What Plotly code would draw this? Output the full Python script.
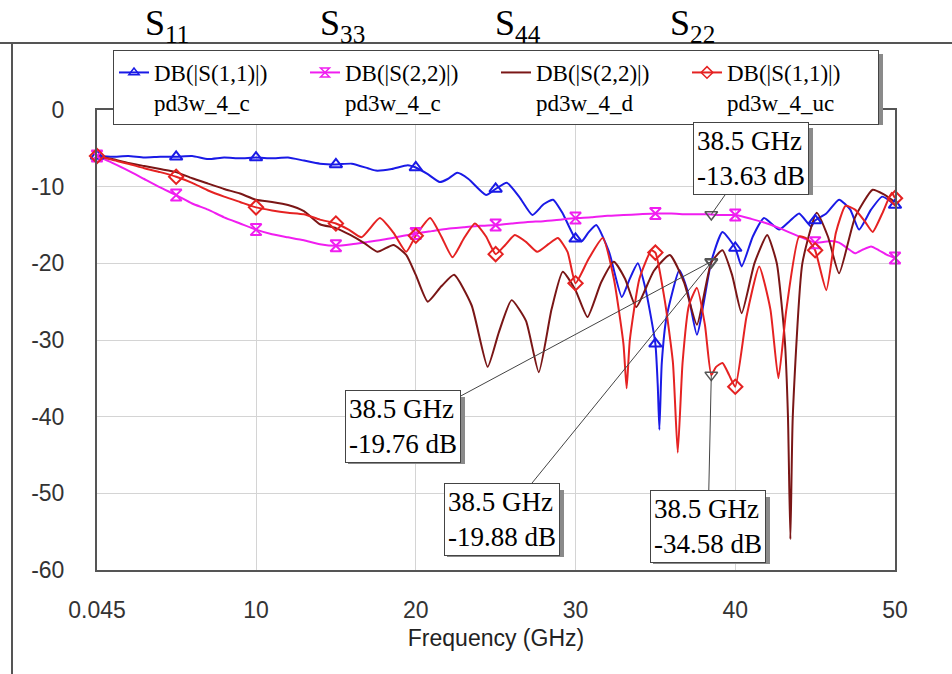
import plotly.graph_objects as go

# ---------------- data ----------------
FREQ_TICKS = [0.045, 10, 20, 30, 40, 50]
FREQ_TICK_TEXT = ["0.045", "10", "20", "30", "40", "50"]
DB_TICKS = [0, -10, -20, -30, -40, -50, -60]
DB_TICK_TEXT = ["0", "-10", "-20", "-30", "-40", "-50", "-60"]
MARKER_FREQS = [0.045, 5, 10, 15, 20, 25, 30, 35, 40, 45, 50]

s11_c_x = [0.045, 1, 2, 3, 4, 5, 6, 7, 8, 9, 10, 11, 12, 13, 14, 15, 16, 17, 17.5, 18.5,
           19.5, 20, 20.7, 21.5, 22, 22.6, 23.3, 24.4, 25, 25.7, 26.5, 27.3, 28, 28.6, 29.2,
           30, 30.4, 30.8, 31.3, 32.1, 32.9, 33.4, 33.9, 34.4, 35, 35.15, 35.25, 35.4, 35.7,
           36.5, 37.0, 37.6, 38.5, 39.2, 40, 40.4, 41.1, 41.8, 42.75, 43.4, 44, 44.75, 45,
           45.7, 46.5, 47.2, 47.75, 48.5, 49.2, 50]
s11_c_y = [-6.0, -6.1, -6.0, -6.2, -6.1, -6.1, -6.0, -6.4, -6.2, -6.3, -6.2, -6.3, -6.2, -6.6,
           -7.0, -7.1, -7.0, -7.6, -7.9, -7.7, -7.2, -7.5, -8.3, -9.4, -9.0, -8.2, -9.0, -11.1,
           -10.3, -9.5, -11.4, -13.7, -12.3, -11.7, -13.5, -16.8, -17.1, -16.0, -15.0, -18.5,
           -24.4, -22.0, -20.0, -23.5, -30.5, -36.0, -41.7, -33.0, -27.0, -20.9, -23.5, -29.3,
           -19.76, -15.9, -18.0, -20.4, -16.5, -14.1, -15.6, -14.5, -13.5, -15.2, -14.4, -13.5,
           -11.7, -13.0, -15.6, -13.0, -11.3, -12.4]

s22_c_x = [0.045, 1, 2, 3, 4, 5, 6, 7, 8, 9, 10, 11, 12, 13, 14, 15, 16, 17, 18, 19, 20, 21,
           22, 23, 24, 25, 26, 27, 28, 29, 30, 31, 32, 33, 34, 35, 36, 37, 38, 38.5, 39, 40,
           41, 42, 43, 44, 45, 46, 46.5, 47, 47.5, 48, 48.5, 49, 49.5, 50]
s22_c_y = [-6.0, -6.9, -7.9, -9.0, -10.1, -11.1, -12.2, -13.0, -14.0, -14.8, -15.6, -16.2,
           -16.6, -17.0, -17.5, -17.7, -17.5, -17.2, -16.9, -16.5, -16.1, -15.8, -15.5, -15.3,
           -15.1, -15.0, -14.8, -14.6, -14.5, -14.3, -14.1, -14.0, -13.8, -13.7, -13.6, -13.5,
           -13.5, -13.6, -13.6, -13.63, -13.7, -13.7, -14.2, -14.8, -15.6, -16.5, -17.3, -17.1,
           -17.3, -18.0, -18.7, -18.2, -17.8, -18.3, -18.9, -19.3]

s22_d_x = [0.045, 1, 2, 3, 4, 5, 6, 7, 8, 9, 10, 11, 12, 13, 14, 15, 15.9, 16.8, 17.6, 18.6,
           19.4, 20.0, 20.75, 21.6, 22.4, 23.5, 24.5, 25.2, 26.0, 26.9, 27.7, 28.5, 29.2, 30.0,
           30.75, 31.6, 32.4, 33.1, 33.8, 34.9, 35.9, 36.8, 37.6, 38.5, 39.2, 39.8, 40.4, 41.2,
           42.0, 42.6, 43.1, 43.3, 43.45, 43.6, 44.2, 45.1, 45.8, 46.5, 47.5, 48.6, 49.3, 50]
s22_d_y = [-6.0, -6.4, -6.9, -7.3, -7.7, -8.1, -8.9, -9.6, -10.3, -10.9, -11.7, -12.0, -12.4,
           -13.2, -14.9, -15.4, -16.3, -17.4, -18.5, -17.6, -18.9, -21.5, -25.0, -23.0, -21.5,
           -25.5, -33.5, -29.0, -24.8, -27.5, -34.2, -26.0, -21.1, -23.5, -27.0, -22.5, -19.8,
           -22.0, -25.7, -21.0, -18.9, -22.5, -28.0, -19.88, -18.3, -21.5, -26.5, -20.0, -16.3,
           -20.0, -30.0, -40.0, -56.0, -40.0, -20.0, -13.4, -16.5, -21.3, -14.0, -10.4, -11.0,
           -12.0]

s11_uc_x = [0.045, 1, 2, 3, 4, 5, 6, 7, 8, 9, 10, 11, 12, 13, 14, 15, 15.8, 16.6, 17.75, 18.6,
            19.4, 20, 20.9, 21.6, 22.3, 23.0, 23.7, 24.4, 25, 25.6, 26.2, 26.9, 27.6, 28.3, 28.9,
            29.5, 30, 30.8, 31.7, 32.4, 33.0, 33.2, 33.4, 34.0, 34.75, 35, 35.6, 36.1, 36.4,
            36.7, 37.1, 37.6, 38.1, 38.5, 38.8, 39.2, 39.6, 40, 40.7, 41.5, 42.2, 42.7, 43.2,
            44.0, 44.5, 45, 45.7, 46.3, 46.9, 47.5, 48.1, 48.6, 49.2, 49.8, 50]
s11_uc_y = [-6.0, -6.5, -7.0, -7.6, -8.1, -8.7, -9.5, -10.5, -11.3, -12.0, -12.7, -13.1, -13.4,
            -13.6, -14.3, -14.8, -15.6, -16.6, -14.1, -16.0, -18.5, -16.4, -14.1, -16.5, -19.2,
            -16.8, -14.8, -16.5, -18.8, -17.6, -16.3, -17.2, -18.5, -17.5, -16.7, -18.5, -22.6,
            -19.5, -16.7, -22.0, -30.5, -36.3, -30.0, -22.0, -18.3, -18.6, -25.0, -33.0, -44.7,
            -33.0, -25.5, -23.2, -28.0, -34.58, -33.5, -33.0, -34.5, -36.1, -27.0, -20.4, -26.0,
            -35.0, -26.0, -16.5, -16.8, -18.3, -23.5, -16.0, -12.5, -13.0, -14.5, -15.9, -13.5,
            -10.8, -11.5]

MARKER_38_X = [38.5, 38.5, 38.5, 38.5]
MARKER_38_Y = [-13.63, -19.76, -19.88, -34.58]
MARKER_38_TEXT = ["38.5 GHz<br>-13.63 dB", "38.5 GHz<br>-19.76 dB",
                  "38.5 GHz<br>-19.88 dB", "38.5 GHz<br>-34.58 dB"]

SERIES = [
    ("DB(|S(1,1)|)<br>pd3w_4_c", s11_c_x, s11_c_y, "#1a1ae6", "triangle-up-open", True),
    ("DB(|S(2,2)|)<br>pd3w_4_c", s22_c_x, s22_c_y, "#f01ef0", "hourglass-open", True),
    ("DB(|S(2,2)|)<br>pd3w_4_d", s22_d_x, s22_d_y, "#7a1616", None, False),
    ("DB(|S(1,1)|)<br>pd3w_4_uc", s11_uc_x, s11_uc_y, "#e52222", "diamond-open", True),
]
TOP_LABELS = ["S<sub>11</sub>", "S<sub>33</sub>", "S<sub>44</sub>", "S<sub>22</sub>"]

# ---------------- layout geometry ----------------
W, H = 952, 674
L, R, T, B = 97, 57, 110, 104
PW, PH = W - L - R, H - T - B


def px_x(px):
    return (px - L) / PW


def px_y(py):
    return (H - B - py) / PH


SERIF = "Liberation Serif, Times New Roman, serif"
SANS = "Liberation Sans, Arial, sans-serif"

fig = go.Figure()

for name, xs, ys, color, sym, has_mk in SERIES:
    fig.add_trace(go.Scatter(
        x=xs, y=ys, mode="lines", name=name, showlegend=False,
        line=dict(color=color, width=2, shape="spline", smoothing=0.5), hoverinfo="skip"))

for name, xs, ys, color, sym, has_mk in SERIES:
    if has_mk:
        mx = [x for x in xs if x in MARKER_FREQS]
        my = [y for x, y in zip(xs, ys) if x in MARKER_FREQS]
        fig.add_trace(go.Scatter(
            x=mx, y=my, mode="markers", showlegend=False, cliponaxis=False,
            marker=dict(symbol=sym, size=11, color=color, line=dict(width=2, color=color))))

for name, xs, ys, color, sym, has_mk in SERIES:
    fig.add_trace(go.Scatter(
        x=[None], y=[None], name=name,
        mode="lines+markers" if has_mk else "lines",
        line=dict(color=color, width=2),
        marker=dict(symbol=sym if sym else "circle", size=9, color=color,
                    line=dict(width=1.5, color=color))))

fig.add_trace(go.Scatter(
    x=MARKER_38_X, y=MARKER_38_Y, mode="markers", showlegend=False,
    marker=dict(symbol="triangle-down-open", size=11, color="#555",
                line=dict(width=1.5, color="#555"))))

# annotation boxes (box center in px) with gray drop shadows
BOX_CENTERS = [(751, 158), (403, 427), (502, 520), (708, 527)]
BOX_HALF_W, BOX_HALF_H = 58, 33
for (bx, by), yv, txt in zip(BOX_CENTERS, MARKER_38_Y, MARKER_38_TEXT):
    fig.add_shape(type="rect", xref="paper", yref="paper", layer="above",
                  x0=px_x(bx - BOX_HALF_W + 3), x1=px_x(bx + BOX_HALF_W + 4),
                  y0=px_y(by + BOX_HALF_H + 4), y1=px_y(by - BOX_HALF_H + 3),
                  line=dict(width=0), fillcolor="#8a8a8a")
    ptx = L + (38.5 - 0.045) / (50 - 0.045) * PW
    pty = T + (-yv) / 60 * PH
    fig.add_annotation(x=38.5, y=yv, xref="x", yref="y", text=txt, align="left",
                       ax=bx - ptx, ay=by - pty, axref="pixel", ayref="pixel",
                       showarrow=True, arrowhead=0, standoff=0, arrowcolor="#444",
                       arrowwidth=1, bgcolor="white", bordercolor="#444",
                       borderwidth=1, borderpad=3,
                       font=dict(family=SERIF, size=27, color="black"))

for lbl, left_px in zip(TOP_LABELS, [143, 318, 493, 668]):
    fig.add_annotation(text=lbl, x=px_x(left_px), y=px_y(26), xref="paper", yref="paper",
                       xanchor="left", yanchor="middle", showarrow=False,
                       font=dict(family=SERIF, size=36, color="black"))

fig.add_shape(type="line", xref="paper", yref="paper", x0=px_x(0), x1=px_x(952),
              y0=px_y(43), y1=px_y(43), line=dict(color="#555", width=2))
fig.add_shape(type="line", xref="paper", yref="paper", x0=px_x(12), x1=px_x(12),
              y0=px_y(43), y1=px_y(674), line=dict(color="#555", width=2))
# legend shadow
fig.add_shape(type="rect", xref="paper", yref="paper", x0=px_x(117), x1=px_x(883),
              y0=px_y(125), y1=px_y(54), line=dict(width=0), fillcolor="#8a8a8a",
              layer="above")

fig.update_layout(
    width=W, height=H,
    margin=dict(l=L, r=R, t=T, b=B),
    paper_bgcolor="white", plot_bgcolor="white",
    showlegend=True,
    legend=dict(orientation="h", x=px_x(113), y=px_y(50), xanchor="left", yanchor="top",
                bgcolor="white", bordercolor="#444", borderwidth=1,
                font=dict(family=SERIF, size=23, color="black"),
                valign="top", entrywidth=146, entrywidthmode="pixels",
                itemclick=False, tracegroupgap=0),
    xaxis=dict(range=[0.045, 50], tickvals=FREQ_TICKS, ticktext=FREQ_TICK_TEXT,
               showgrid=True, gridcolor="#d4d4d4", gridwidth=1, zeroline=False,
               showline=True, linecolor="#555", linewidth=2, mirror=True,
               ticks="outside", ticklen=18, tickcolor="rgba(0,0,0,0)",
               tickfont=dict(family=SANS, size=23, color="#333"),
               title=dict(text="Frequency (GHz)", font=dict(family=SANS, size=23, color="#222"),
                          standoff=8)),
    yaxis=dict(range=[-60, 0], tickvals=DB_TICKS, ticktext=DB_TICK_TEXT,
               showgrid=True, gridcolor="#d4d4d4", gridwidth=1,
               zeroline=False, showline=True, linecolor="#555", linewidth=2, mirror=True,
               ticks="outside", ticklen=26, tickcolor="rgba(0,0,0,0)",
               tickfont=dict(family=SANS, size=23, color="#333")),
)

fig.write_html("out.html")
